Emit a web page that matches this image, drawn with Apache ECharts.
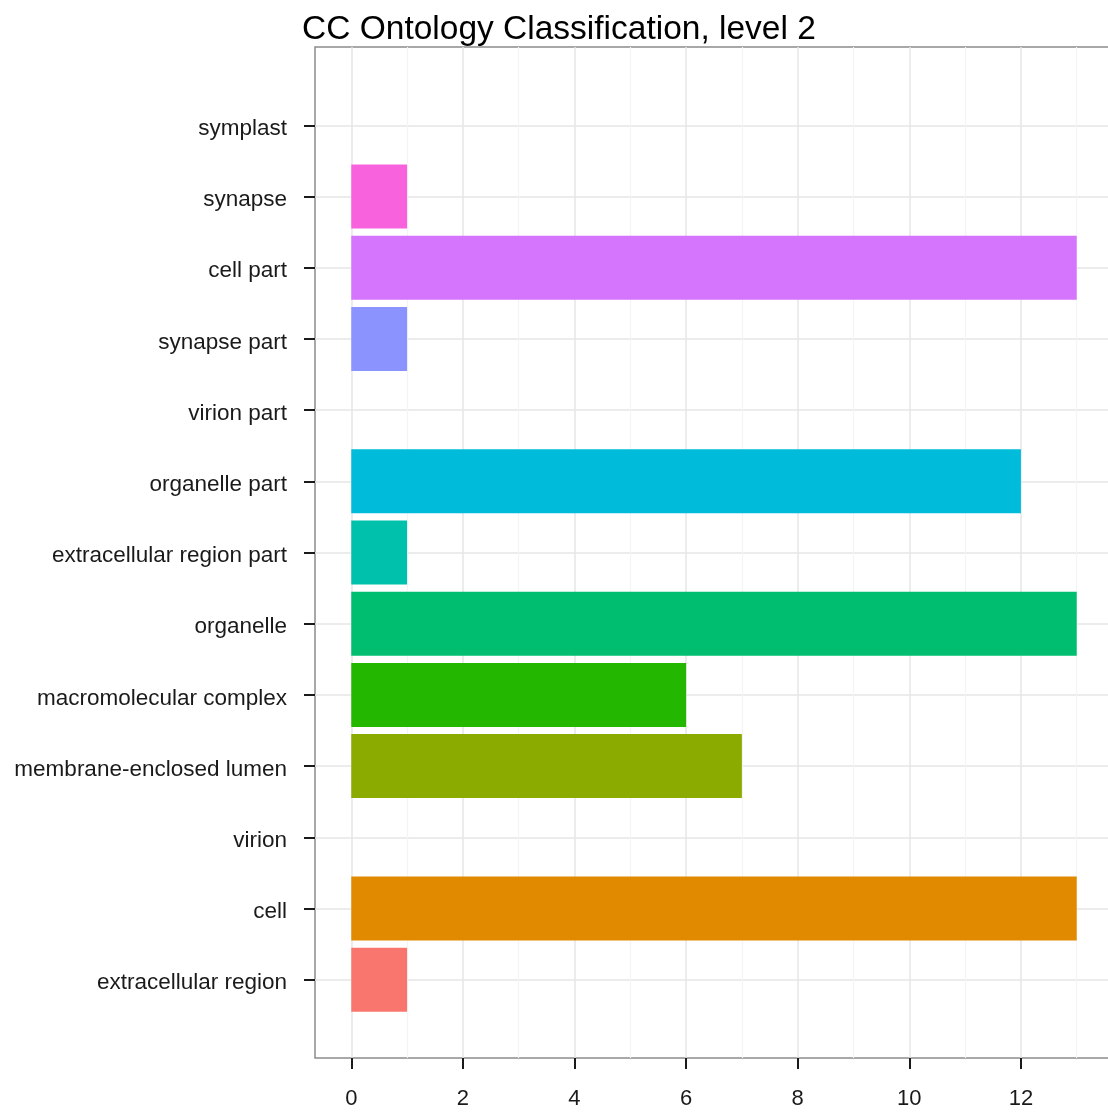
<!doctype html>
<html lang="en">

<head>
	<meta charset="UTF-8">
	<title>CC Ontology Classification, level 2</title>
	<script src="https://cdn.jsdelivr.net/npm/echarts@6/dist/echarts.min.js"></script>
	<style>
		html,
		body {
			margin: 0;
			padding: 0;
			width: 100%;
			height: 100%;
			background: #fff;
		}

		#main {
			width: 1108px;
			height: 1113px;
		}
	</style>
</head>

<body>
	<div id="main"></div>
	<script type="text/javascript">
		// bottom to top, as in the picture
		var categories = ['extracellular region', 'cell', 'virion', 'membrane-enclosed lumen',
			'macromolecular complex', 'organelle', 'extracellular region part', 'organelle part',
			'virion part', 'synapse part', 'cell part', 'synapse', 'symplast'];
		var counts = [1, 13, 0, 7, 6, 13, 1, 12, 0, 1, 13, 1, 0];
		var colors = ['#F8766D', '#E18A00', '#BE9C00', '#8CAB00', '#24B700', '#00BE70', '#00C1AB',
			'#00BBDA', '#00ACFC', '#8B93FF', '#D575FE', '#F962DD', '#FF65AC'];
		var xTicks = [0, 2, 4, 6, 8, 10, 12];
		var rowIndex = categories.map(function (c, i) { return i; });

		var myChart = echarts.init(document.getElementById('main'));
		var font = 'Liberation Sans, Arial, sans-serif';

		var option = {
			animation: false,
			title: {
				text: 'CC Ontology Classification, level 2',
				left: 302,
				top: 13,
				padding: 0,
				textStyle: { fontFamily: font, fontSize: 33.5, fontWeight: 'normal', color: '#000' }
			},
			grid: [
				// panel: border + grid lines
				{ left: 315, top: 47, width: 798, height: 1011, outerBoundsMode: 'none', show: true, borderColor: '#8c8c8c', borderWidth: 1.5, backgroundColor: '#fff' },
				// bars
				{ left: 315, top: 89.7, width: 798, height: 925.6, outerBoundsMode: 'none' }
			],
			xAxis: [
				{
					gridIndex: 0, type: 'value', min: -0.65, max: 13.65, splitNumber: 7,
					axisLine: { show: false, onZero: false },
					axisTick: { show: true, customValues: xTicks, length: 11, lineStyle: { color: '#1a1a1a', width: 2 } },
					axisLabel: { customValues: xTicks, margin: 30, fontFamily: font, fontSize: 22, color: '#1a1a1a' },
					splitLine: { show: true, lineStyle: { color: '#e6e6e6', width: 1.5 } },
					minorTick: { show: false, splitNumber: 2 },
					minorSplitLine: { show: true, lineStyle: { color: '#f4f4f4', width: 1.2 } }
				},
				{
					gridIndex: 1, type: 'value', min: -0.65, max: 13.65, show: false
				}
			],
			yAxis: [
				{
					gridIndex: 0, type: 'value', min: -1.1, max: 13.1,
					axisLine: { show: false, onZero: false },
					axisTick: { show: false, customValues: rowIndex },
					axisLabel: { show: false },
					splitLine: { show: true, lineStyle: { color: '#e6e6e6', width: 1.5 } }
				},
				{
					gridIndex: 1, type: 'category', data: categories,
					axisLine: { show: false, onZero: false },
					axisTick: { show: true, alignWithLabel: true, length: 11, lineStyle: { color: '#1a1a1a', width: 2 } },
					axisLabel: {
						margin: 28,
						formatter: function (v) { return '{a|' + v + '}'; },
						rich: { a: { padding: [7, 0, 0, 0], fontFamily: font, fontSize: 22.5, color: '#1a1a1a' } }
					},
					splitLine: { show: false }
				}
			],
			series: [{
				type: 'bar',
				xAxisIndex: 1,
				yAxisIndex: 1,
				barWidth: 64,
				data: counts.map(function (v, i) {
					return { value: v, itemStyle: { color: colors[i] } };
				})
			}]
		};
		myChart.setOption(option);
	</script>
</body>

</html>
